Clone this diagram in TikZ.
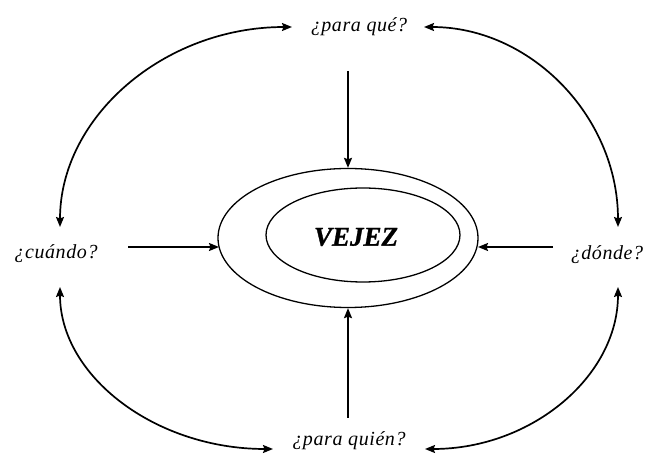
\documentclass[tikz,border=0pt]{standalone}
\usepackage{fontspec}
\setmainfont{Liberation Serif}
\newfontfamily\lblfont{Liberation Serif}[LetterSpace=3]
\newfontfamily\vjfont{Liberation Serif}[BoldItalicFeatures={FakeBold=1}]
\usetikzlibrary{shapes.geometric,arrows.meta}
\begin{document}
\begin{tikzpicture}[x=1pt,y=-1pt,
  lbl/.style={font=\lblfont\itshape\fontsize{20}{23}\selectfont, anchor=base, inner sep=0pt},
  ring/.style={draw, ellipse, inner sep=0pt, line width=1.3pt},
  arr/.style={line width=1.7pt, -{Stealth[length=10pt,width=8pt,inset=1.5pt]}},
  darr/.style={line width=1.7pt, {Stealth[length=10pt,width=8pt,inset=1.5pt]}-{Stealth[length=10pt,width=8pt,inset=1.5pt]}}]
\useasboundingbox (0,0) rectangle (649,457);
% labels
\node[lbl] (que) at (359,32) {¿para qué?};
\node[lbl] (cuando) at (56,259) {¿cuándo?};
\node[lbl] (donde) at (607,260) {¿dónde?};
\node[lbl] (quien) at (349,446) {¿para quién?};
% ellipses
\node[ring, minimum width=260pt, minimum height=139pt] (outer) at (348,238) {};
\node[ring, minimum width=194pt, minimum height=94pt] (inner) at (363,235) {};
\node[font=\vjfont\bfseries\itshape\fontsize{27}{30}\selectfont, inner sep=0pt] (vejez) at (356,237) {VEJEZ};
% straight arrow ends
\coordinate (ts) at (348,71);
\coordinate (bs) at (348,418);
\coordinate (ls) at (128,247);
\coordinate (le) at (219,247);
\coordinate (rs) at (553,247);
\coordinate (re) at (478,247);
\draw[arr] (ts) -- (outer.north);
\draw[arr] (bs) -- (outer.south);
\draw[arr] (ls) -- (le);
\draw[arr] (rs) -- (re);
% curve tips
\coordinate (tlA) at (60,227);
\coordinate (tlB) at (292,27);
\coordinate (trA) at (424,27);
\coordinate (trB) at (618,227);
\coordinate (blA) at (60,287);
\coordinate (blB) at (273,449);
\coordinate (brA) at (618,287);
\coordinate (brB) at (425,449);
\draw[darr] (tlA) .. controls (60,117) and (164,27) .. (tlB);
\draw[darr] (trA) .. controls (531,27) and (618,117) .. (trB);
\draw[darr] (blA) .. controls (60,376) and (155,449) .. (blB);
\draw[darr] (brA) .. controls (618,376) and (532,449) .. (brB);
\end{tikzpicture}
\end{document}
